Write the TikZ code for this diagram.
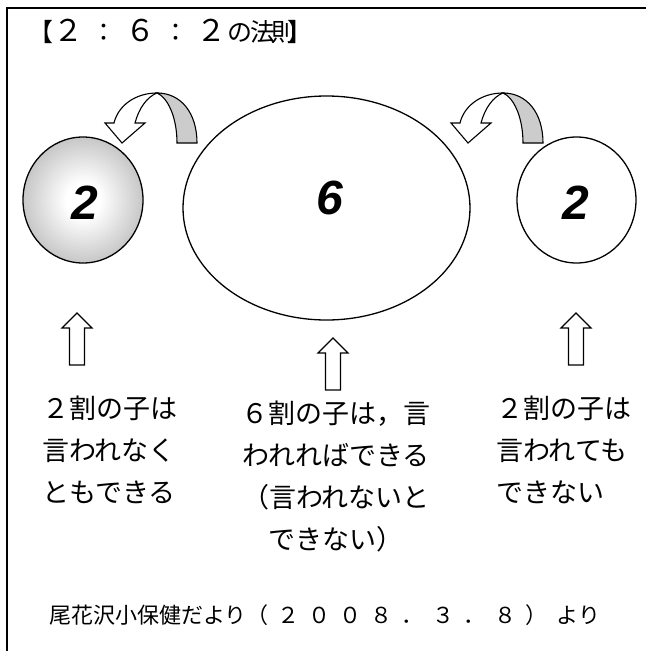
\documentclass[tikz,border=0pt]{standalone}
\usepackage{fontspec}
\newfontfamily\jp{Noto Sans CJK JP}
\newfontfamily\numf{Liberation Sans}
\usetikzlibrary{shapes.geometric}
\pgfdeclareradialshading{eggshade}{\pgfpoint{0bp}{0bp}}{color(0bp)=(white); color(7bp)=(white); color(25bp)=(black!22); color(50bp)=(black!22)}
\newcommand\bigdig[1]{{\fontsize{30}{30}\selectfont #1}}
\tikzset{
  egg/.style={ellipse, draw, line width=1.3pt, inner sep=0pt},
  bignum/.style={font=\numf\bfseries\itshape\fontsize{48}{48}\selectfont, inner sep=0pt},
  jptext/.style={font=\jp\fontsize{27}{27}\selectfont, inner sep=0pt},
  titletext/.style={font=\jp\fontsize{25}{25}\selectfont, inner sep=0pt, anchor=base west},
  capttext/.style={font=\jp\fontsize{22}{22}\selectfont, inner sep=0pt, anchor=base west},
  blockarrow/.style={draw, fill=white, line width=1.1pt, line join=miter},
  uparrow/.pic={\path[blockarrow] (-7.5,52) -- (-7.5,15) -- (-15,15) -- (0,0) -- (15,15) -- (7.5,15) -- (7.5,52) -- cycle;},
  curvarrow/.pic={
    \path[draw, fill=black!20, line width=1.1pt] (157,93) .. controls (181,93) and (197,113) .. (197,143) -- (177,143) .. controls (177,116) and (167,97) .. (157,93) -- cycle;
    \path[blockarrow] (157,93) .. controls (135,93) and (118,106) .. (114,123) -- (105,123) -- (122,143) -- (145,123) -- (135,123) .. controls (139,108) and (147,97) .. (157,93) -- cycle;
  }
}
\begin{document}
\begin{tikzpicture}[x=1pt,y=-1pt]
\useasboundingbox (0,0) rectangle (646,651);
\fill[white] (0,0) rectangle (646,651);
% frame
\draw[line width=2pt] (7,651) -- (7,8) -- (646,8);
% title
\node[titletext] (title) at (28,41) {【\kern0pt \bigdig{２}\kern8.75pt ：\kern8.75pt \bigdig{６}\kern8pt ：\kern8pt \bigdig{２}\kern0.5pt の\kern-2pt 法\kern-4pt 則\kern-9pt 】};
% ellipses
\node[egg, shading=eggshade, minimum width=120pt, minimum height=126pt] (eL) at (83,200) {};
\node[egg, minimum width=287pt, minimum height=224pt] (eM) at (326.5,208) {};
\node[egg, minimum width=119pt, minimum height=126pt] (eR) at (576.5,200) {};
\node[bignum] (nL) at (84.5,203) {2};
\node[bignum] (nM) at (330,197.5) {6};
\node[bignum] (nR) at (575.5,203) {2};
% curved arrows
\pic at (0,0) {curvarrow};
\pic at (346,0) {curvarrow};
% up arrows
\pic at (77,313) {uparrow};
\pic at (333,338) {uparrow};
\pic at (576,313) {uparrow};
% left text
\node[jptext, anchor=base west] (l1) at (42,418) {２割の子は};
\node[jptext, anchor=base west] (l2) at (42,460) {言われなく};
\node[jptext, anchor=base west] (l3) at (42,502) {ともできる};
% middle text
\node[jptext, anchor=base] (m1) at (336,423) {６割の子は，言};
\node[jptext, anchor=base] (m2) at (336,465) {われればできる};
\node[jptext, anchor=base] (m3) at (336,507) {（言われないと};
\node[jptext, anchor=base] (m4) at (336,549) {できない）};
% right text
\node[jptext, anchor=base west] (r1) at (496,418) {２割の子は};
\node[jptext, anchor=base west] (r2) at (496,460) {言われても};
\node[jptext, anchor=base west] (r3) at (496,502) {できない};
% caption
\node[capttext] (cap) at (49,623) {尾花沢小保健だより（\kern9pt ２\kern9pt ０\kern9pt ０\kern9pt ８\kern9pt ．\kern9pt ３\kern9pt ．\kern9pt ８\kern9pt ）\kern9pt より};
\end{tikzpicture}
\end{document}
